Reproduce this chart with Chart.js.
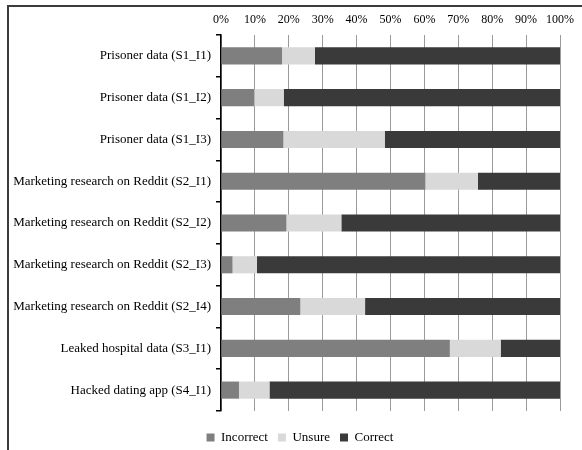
<!DOCTYPE html>
<html lang="en">
<head>
<meta charset="UTF-8">
<title>Responses by item</title>
<script src="https://cdn.jsdelivr.net/npm/chart.js"></script>
<style>
    * { margin: 0; padding: 0; box-sizing: border-box; }
    body { background: #fff; width: 582px; height: 450px; overflow: hidden; position: relative; }
    .frame {
        position: absolute; left: 7px; top: 5px; right: -2px; bottom: -2px;
        border-left: 2px solid #3c3c3c; border-top: 2px solid #3c3c3c;
    }
    .wrap { position: absolute; left: 0; top: 0; width: 582px; height: 450px; }
</style>
</head>
<body>
<div class="frame"></div>
<div class="wrap"><canvas id="myChart" width="582" height="450"></canvas></div>
<script>
    const categories = [
        "Prisoner data (S1_I1)",
        "Prisoner data (S1_I2)",
        "Prisoner data (S1_I3)",
        "Marketing research on Reddit (S2_I1)",
        "Marketing research on Reddit (S2_I2)",
        "Marketing research on Reddit (S2_I3)",
        "Marketing research on Reddit (S2_I4)",
        "Leaked hospital data (S3_I1)",
        "Hacked dating app (S4_I1)"
    ];
    const incorrect = [18.0, 9.8, 18.4, 60.3, 19.3, 3.4, 23.4, 67.5, 5.3];
    const unsure    = [9.7, 8.7, 29.9, 15.5, 16.2, 7.2, 19.1, 15.0, 9.0];
    const correct   = [72.3, 81.5, 51.7, 24.2, 64.5, 89.4, 57.5, 17.5, 85.7];

    const serif = "'Liberation Serif', 'Times New Roman', serif";

    // legend sits a bit lower and further right, like in the original
    const legendShift = {
        id: "legendShift",
        afterLayout(chart) {
            const lg = chart.legend;
            lg.top += 10;
            lg.bottom += 10;
            lg.left += 20;
            lg.right += 20;
        }
    };

    const ctx = document.getElementById("myChart").getContext("2d");
    new Chart(ctx, {
        type: "bar",
        data: {
            labels: categories,
            datasets: [
                { label: "Incorrect", data: incorrect, backgroundColor: "#7f7f7f" },
                { label: "Unsure", data: unsure, backgroundColor: "#d9d9d9" },
                { label: "Correct", data: correct, backgroundColor: "#3a3a3a" }
            ]
        },
        plugins: [legendShift],
        options: {
            indexAxis: "y",
            responsive: false,
            animation: false,
            devicePixelRatio: 1,
            layout: { padding: { top: 0, right: 22, bottom: 6, left: 0 } },
            datasets: {
                bar: { categoryPercentage: 1, barPercentage: 0.41, borderWidth: 0 }
            },
            plugins: {
                tooltip: { enabled: false },
                legend: {
                    position: "bottom",
                    labels: {
                        boxWidth: 8,
                        boxHeight: 8,
                        padding: 10,
                        color: "#000",
                        font: { family: serif, size: 13 }
                    }
                }
            },
            scales: {
                x: {
                    position: "top",
                    stacked: true,
                    min: 0,
                    max: 100,
                    afterFit: s => { s.height = 35; },
                    ticks: {
                        stepSize: 10,
                        padding: 8,
                        maxRotation: 0,
                        color: "#000",
                        font: { family: serif, size: 12 },
                        callback: v => v + "%"
                    },
                    grid: { color: "#9a9a9a", lineWidth: 1, drawTicks: false },
                    border: { display: false }
                },
                y: {
                    stacked: true,
                    afterFit: s => { s.width = 221; },
                    ticks: {
                        padding: 5,
                        autoSkip: false,
                        color: "#000",
                        font: { family: serif, size: 13 }
                    },
                    grid: {
                        offset: true,
                        drawOnChartArea: false,
                        drawTicks: true,
                        tickLength: 5,
                        color: "#000",
                        lineWidth: 1.5
                    },
                    border: { display: true, color: "#000", width: 1.5 }
                }
            }
        }
    });
</script>
</body>
</html>
